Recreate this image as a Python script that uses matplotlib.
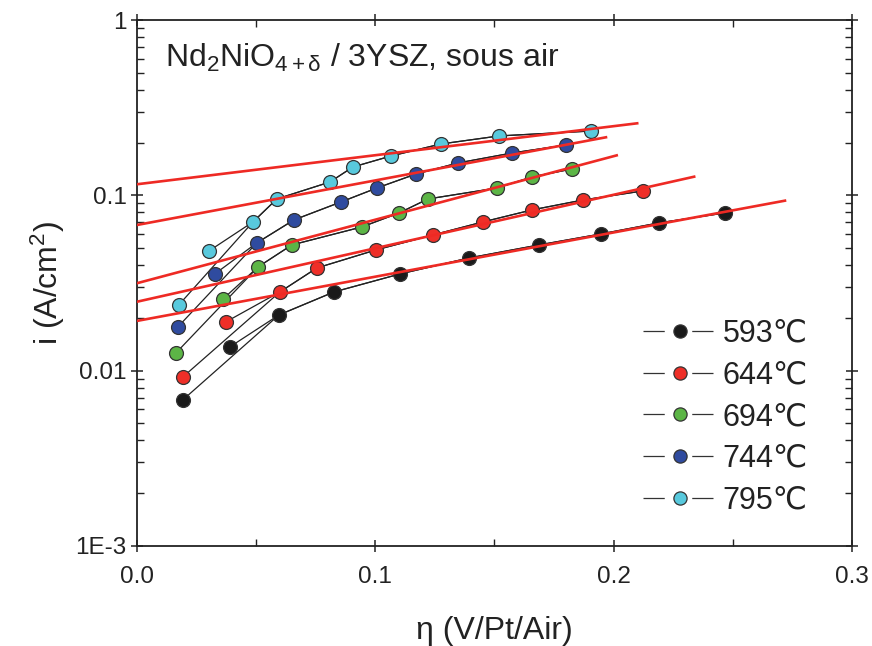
import matplotlib
matplotlib.use("Agg")
import matplotlib.pyplot as plt
from matplotlib.lines import Line2D
from matplotlib.ticker import FixedLocator, FixedFormatter, LogLocator, NullFormatter, MultipleLocator

plt.rcParams['font.family'] = ['Liberation Sans', 'DejaVu Sans']
plt.rcParams['mathtext.fontset'] = 'custom'
plt.rcParams['mathtext.rm'] = 'Liberation Sans'
plt.rcParams['mathtext.it'] = 'Liberation Sans'

labels = ['593℃', '644℃', '694℃', '744℃', '795℃']
colors = ['#1a1a1a', '#ee2f28', '#5cb546', '#2f4b9f', '#58c9dd']

eta = [
    [0.0193, 0.0390, 0.0596, 0.0827, 0.1104, 0.1393, 0.1687, 0.1947, 0.2190, 0.2467],
    [0.0193, 0.0373, 0.0600, 0.0755, 0.1003, 0.1242, 0.1452, 0.1657, 0.1871, 0.2123],
    [0.0164, 0.0361, 0.0508, 0.0650, 0.0944, 0.1100, 0.1221, 0.1511, 0.1657, 0.1825],
    [0.0172, 0.0327, 0.0503, 0.0659, 0.0856, 0.1007, 0.1171, 0.1347, 0.1574, 0.1800],
    [0.0176, 0.0302, 0.0487, 0.0587, 0.0810, 0.0906, 0.1066, 0.1276, 0.1519, 0.1905],
]
current = [
    [0.00681, 0.01365, 0.02077, 0.0281, 0.0356, 0.0439, 0.0521, 0.0602, 0.0696, 0.0793],
    [0.00920, 0.01895, 0.0281, 0.0385, 0.0488, 0.0594, 0.0705, 0.0825, 0.0940, 0.1059],
    [0.01261, 0.0256, 0.0390, 0.0521, 0.0660, 0.0793, 0.0953, 0.1101, 0.1272, 0.1413],
    [0.01775, 0.0356, 0.0535, 0.0724, 0.0916, 0.1101, 0.1323, 0.1529, 0.1743, 0.1937],
    [0.0237, 0.0481, 0.0705, 0.0953, 0.1191, 0.1450, 0.1676, 0.1963, 0.2181, 0.2327],
]

# Tafel fit lines: (i at eta=0, eta end, i at end)
fit_i0 = [0.0192, 0.0247, 0.0315, 0.0677, 0.1156]
fit_eta_end = [0.2719, 0.2338, 0.2013, 0.1968, 0.2099]
fit_i_end = [0.0932, 0.1277, 0.169, 0.2143, 0.2575]

fig = plt.figure(figsize=(8.72, 6.46), dpi=100)
ax = fig.add_axes([0.157, 0.155, 0.820, 0.814])
ax.set_yscale('log')
ax.set_xlim(0, 0.3)
ax.set_ylim(1e-3, 1)

for k in range(5):
    x = eta[k]
    y = current[k]
    # two measurement sweeps sharing most points
    ax.plot([x[0]] + x[2:], [y[0]] + y[2:], color='#222222', lw=0.9, zorder=2)
    ax.plot(x[1:], y[1:], color='#222222', lw=0.9, zorder=2)
    ax.plot(x, y, ls='none', marker='o', ms=10, mfc=colors[k], mec='#333333', mew=0.9, zorder=3)

for k in range(5):
    ax.plot([0, fit_eta_end[k]], [fit_i0[k], fit_i_end[k]], color='#ee2a24', lw=1.9, zorder=4)

# ticks
ax.set_xticks([0.0, 0.1, 0.2, 0.3])
ax.set_xticklabels(['0.0', '0.1', '0.2', '0.3'])
ax.xaxis.set_minor_locator(MultipleLocator(0.05))
ax.yaxis.set_major_locator(FixedLocator([1e-3, 1e-2, 1e-1, 1]))
ax.yaxis.set_major_formatter(FixedFormatter(['1E-3', '0.01', '0.1', '1']))
ax.yaxis.set_minor_locator(LogLocator(base=10, subs=range(2, 10)))
ax.yaxis.set_minor_formatter(NullFormatter())
ax.tick_params(axis='both', which='major', direction='inout', length=9, width=1.1,
               labelsize=17.5, colors='#222222', top=True, right=True)
ax.tick_params(axis='both', which='minor', direction='in', length=5, width=1.0,
               top=True, right=True, colors='#222222')
ax.tick_params(axis='x', which='major', pad=10)
ax.tick_params(axis='y', which='major', pad=3)
for s in ax.spines.values():
    s.set_linewidth(1.3)
    s.set_color('#222222')

ax.set_xlabel('η (V/Pt/Air)', fontsize=23, color='#222222', labelpad=20)
ax.set_ylabel('i (A/cm$^2$)', fontsize=23, color='#222222', labelpad=6)

ax.text(0.039, 0.928, r'Nd$_2$NiO$_{4+\mathrm{δ}}$ / 3YSZ, sous air', transform=ax.transAxes,
        fontsize=23, color='#222222', va='center', ha='left')

handles = [Line2D([], [], color='#333333', lw=0.9, ls=(0, (17, 22, 17, 200)),
                  marker='o', ms=9.5, mfc=c, mec='#333333', mew=0.9)
           for c in colors]
leg = ax.legend(handles, labels, loc='upper left', bbox_to_anchor=(0.69, 0.455), frameon=False,
                fontsize=22, handlelength=2.45, handletextpad=0.18, labelspacing=0.38,
                borderaxespad=0, numpoints=1)
for t in leg.get_texts():
    t.set_color('#222222')

fig.savefig('out.png', dpi=100)
